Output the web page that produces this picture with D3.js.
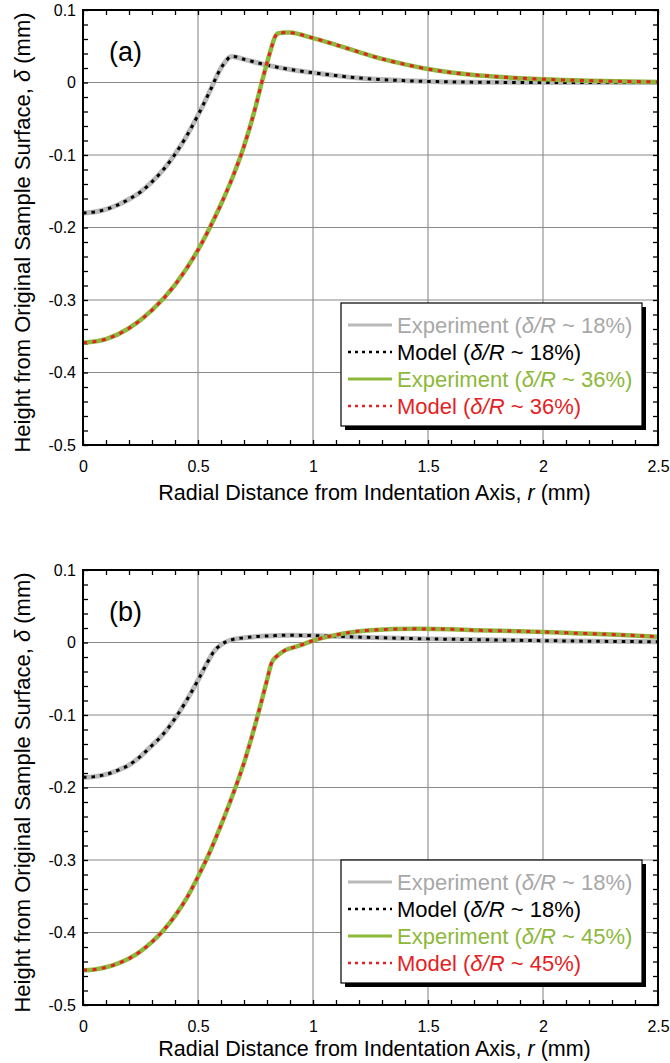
<!DOCTYPE html>
<html>
<head>
<meta charset="utf-8">
<script src="https://cdn.jsdelivr.net/npm/d3@7"></script>
<style>
  body { margin: 0; background: #fff; }
  svg { display: block; font-family: "Liberation Sans", Arial, Helvetica, sans-serif; }
</style>
</head>
<body>
<svg id="chart" width="670" height="1063"></svg>
<script>
// ---- data: surface profile after indentation, height (mm) vs radial distance (mm) ----
// Panel (a): delta/R ~ 18% and ~ 36%
const rA18 = [0, 0.05, 0.1, 0.15, 0.2, 0.25, 0.3, 0.35, 0.4, 0.45, 0.5, 0.55, 0.6, 0.625, 0.64, 0.65, 0.7, 0.8, 0.9, 1.0, 1.1, 1.2, 1.3, 1.4, 1.5, 1.7, 2.0, 2.5];
const hA18 = [-0.180, -0.1785, -0.175, -0.169, -0.161, -0.151, -0.137, -0.120, -0.099, -0.074, -0.045, -0.013, 0.020, 0.031, 0.0355, 0.036, 0.032, 0.024, 0.018, 0.0135, 0.0095, 0.0062, 0.004, 0.0025, 0.0015, 0.0005, 0.0, 0.0];

const rA36 = [0, 0.1, 0.2, 0.3, 0.4, 0.5, 0.55, 0.6, 0.65, 0.7, 0.75, 0.777, 0.8, 0.82, 0.835, 0.85, 0.88, 0.9, 1.0, 1.1, 1.2, 1.3, 1.4, 1.5, 1.6, 1.7, 1.8, 1.9, 2.0, 2.2, 2.5];
const hA36 = [-0.359, -0.354, -0.339, -0.314, -0.279, -0.231, -0.201, -0.168, -0.131, -0.088, -0.034, 0.0, 0.027, 0.049, 0.063, 0.068, 0.069, 0.0688, 0.0613, 0.052, 0.042, 0.0325, 0.025, 0.0185, 0.0138, 0.0105, 0.008, 0.006, 0.0045, 0.0025, 0.0008];

// Panel (b): delta/R ~ 18% and ~ 45%
const rB18 = [0, 0.05, 0.1, 0.15, 0.2, 0.25, 0.3, 0.35, 0.4, 0.45, 0.5, 0.54, 0.57, 0.6, 0.65, 0.7, 0.8, 0.9, 1.0, 1.1, 1.25, 1.5, 1.7, 2.0, 2.5];
const hB18 = [-0.186, -0.185, -0.182, -0.1765, -0.169, -0.157, -0.142, -0.126, -0.105, -0.080, -0.052, -0.028, -0.012, -0.003, 0.004, 0.0065, 0.009, 0.010, 0.0095, 0.0085, 0.007, 0.005, 0.004, 0.0025, 0.001];

const rB45 = [0, 0.05, 0.1, 0.15, 0.2, 0.25, 0.3, 0.35, 0.4, 0.45, 0.5, 0.55, 0.6, 0.65, 0.7, 0.75, 0.777, 0.8, 0.82, 0.85, 0.88, 0.93, 1.0, 1.1, 1.25, 1.45, 1.6, 1.7, 1.9, 2.1, 2.3, 2.5];
const hB45 = [-0.452, -0.451, -0.448, -0.443, -0.436, -0.426, -0.413, -0.397, -0.377, -0.353, -0.323, -0.290, -0.252, -0.211, -0.166, -0.112, -0.080, -0.052, -0.028, -0.017, -0.0105, -0.0055, 0.0025, 0.0105, 0.017, 0.0188, 0.0182, 0.017, 0.0155, 0.0133, 0.011, 0.008];

// ---- axes ----
const xTicks = [0, 0.5, 1, 1.5, 2, 2.5];
const xTickLabels = ["0", "0.5", "1", "1.5", "2", "2.5"];
const yTicks = [0.1, 0, -0.1, -0.2, -0.3, -0.4, -0.5];
const yTickLabels = ["0.1", "0", "-0.1", "-0.2", "-0.3", "-0.4", "-0.5"];
const xGrid = [0.5, 1, 1.5, 2];
const yGrid = [0, -0.1, -0.2, -0.3, -0.4];
const xMinor = d3.range(0, 26).map(i => i / 10);
const yMinor = d3.range(0, 31).map(i => +(-0.5 + i * 0.02).toFixed(2));

const xTitle = "Radial Distance from Indentation Axis, ";
const yTitle = "Height from Original Sample Surface, ";

const colors = { exp18: "#bababa", mod18: "#000000", expHi: "#8db83a", modHi: "#e41f26", text18: "#a8a8a8" };

const svg = d3.select("#chart");
const M = { left: 83, width: 575, height: 435 };

function ratioLabel(sel, prefix, pct) {
  sel.append("tspan").text(prefix + " (");
  sel.append("tspan").attr("font-style", "italic").text("\u03b4/R");
  sel.append("tspan").text(" ~ " + pct + "%)");
}

function drawPanel(cfg) {
  const W = M.width, H = M.height;
  const g = svg.append("g").attr("transform", `translate(${M.left},${cfg.top})`);
  const x = d3.scaleLinear().domain([0, 2.5]).range([0, W]);
  const y = d3.scaleLinear().domain([-0.5, 0.1]).range([H, 0]);

  const clipId = "clip-" + cfg.id;
  g.append("clipPath").attr("id", clipId)
    .append("rect").attr("width", W).attr("height", H);

  // grid lines
  g.append("g").selectAll("line").data(xGrid).join("line")
    .attr("x1", d => x(d)).attr("x2", d => x(d)).attr("y1", 0).attr("y2", H)
    .attr("stroke", "#8a8a8a").attr("stroke-width", 1.1);
  g.append("g").selectAll("line").data(yGrid).join("line")
    .attr("x1", 0).attr("x2", W).attr("y1", d => y(d)).attr("y2", d => y(d))
    .attr("stroke", "#8a8a8a").attr("stroke-width", 1.1);

  // inward minor ticks on all four sides
  const tickStyle = s => { s.select(".domain").remove(); s.selectAll("line").attr("stroke", "#000").attr("stroke-width", 1.3); };
  g.append("g").attr("transform", `translate(0,${H})`)
    .call(d3.axisBottom(x).tickValues(xMinor).tickSize(-5).tickFormat("")).call(tickStyle);
  g.append("g")
    .call(d3.axisTop(x).tickValues(xMinor).tickSize(-5).tickFormat("")).call(tickStyle);
  g.append("g")
    .call(d3.axisLeft(y).tickValues(yMinor).tickSize(-5).tickFormat("")).call(tickStyle);
  g.append("g").attr("transform", `translate(${W},0)`)
    .call(d3.axisRight(y).tickValues(yMinor).tickSize(-5).tickFormat("")).call(tickStyle);

  // curves
  const line = d3.line().x(d => x(d[0])).y(d => y(d[1])).curve(d3.curveMonotoneX);
  const curves = g.append("g").attr("clip-path", `url(#${clipId})`);
  const series = [
    { r: cfg.r18, h: cfg.h18, color: colors.exp18, width: 5, dash: null },
    { r: cfg.r18, h: cfg.h18, color: colors.mod18, width: 3, dash: "3.5,5" },
    { r: cfg.rHi, h: cfg.hHi, color: colors.expHi, width: 4.5, dash: null },
    { r: cfg.rHi, h: cfg.hHi, color: colors.modHi, width: 3, dash: "4,5.5" }
  ];
  series.forEach(s => {
    curves.append("path").datum(d3.zip(s.r, s.h))
      .attr("d", line).attr("fill", "none")
      .attr("stroke", s.color).attr("stroke-width", s.width)
      .attr("stroke-dasharray", s.dash);
  });

  // frame
  g.append("rect").attr("width", W).attr("height", H)
    .attr("fill", "none").attr("stroke", "#000").attr("stroke-width", 2);

  // tick labels
  const xl = g.append("g").attr("transform", `translate(0,${H})`)
    .call(d3.axisBottom(x).tickValues(xTicks).tickSize(0).tickPadding(16)
      .tickFormat((d, i) => xTickLabels[i]));
  xl.select(".domain").remove();
  xl.selectAll("text").attr("font-size", 16).attr("font-family", null).attr("fill", "#000");

  const yl = g.append("g")
    .call(d3.axisLeft(y).tickValues(yTicks).tickSize(0).tickPadding(7)
      .tickFormat((d, i) => yTickLabels[i]));
  yl.select(".domain").remove();
  yl.selectAll("text").attr("font-size", 16).attr("font-family", null).attr("fill", "#000");

  // panel letter
  g.append("text").attr("x", 26).attr("y", 51).attr("font-size", 27).text(cfg.letter);

  // axis titles
  const xt = g.append("text").attr("x", W / 2 + 4).attr("y", H + cfg.titleGap)
    .attr("text-anchor", "middle").attr("font-size", 21.5);
  xt.append("tspan").text(xTitle);
  xt.append("tspan").attr("font-style", "italic").text("r");
  xt.append("tspan").text(" (mm)");

  const yt = g.append("text")
    .attr("transform", `translate(${30 - M.left},${H / 2 + 5}) rotate(-90)`)
    .attr("text-anchor", "middle").attr("font-size", 22);
  yt.append("tspan").text(yTitle);
  yt.append("tspan").attr("font-style", "italic").text("\u03b4");
  yt.append("tspan").text(" (mm)");

  // legend with drop shadow
  const lg = g.append("g").attr("transform", `translate(${341 - M.left},${cfg.legendTop - cfg.top})`);
  const LW = 301, LH = 123;
  lg.append("rect").attr("x", 4).attr("y", 4).attr("width", LW).attr("height", LH).attr("fill", "#000");
  lg.append("rect").attr("width", LW).attr("height", LH).attr("fill", "#fff")
    .attr("stroke", "#000").attr("stroke-width", 1.2);
  const entries = [
    { label: "Experiment", pct: 18, stroke: colors.exp18, text: colors.text18, width: 3, dash: null },
    { label: "Model", pct: 18, stroke: colors.mod18, text: "#000", width: 2.5, dash: "3,4" },
    { label: "Experiment", pct: cfg.pctHi, stroke: colors.expHi, text: colors.expHi, width: 3, dash: null },
    { label: "Model", pct: cfg.pctHi, stroke: colors.modHi, text: colors.modHi, width: 2.5, dash: "3,4" }
  ];
  entries.forEach((e, i) => {
    const cy = 22 + i * 27;
    lg.append("line").attr("x1", 7).attr("x2", 51).attr("y1", cy).attr("y2", cy)
      .attr("stroke", e.stroke).attr("stroke-width", e.width).attr("stroke-dasharray", e.dash);
    const t = lg.append("text").attr("x", 56).attr("y", cy + 8)
      .attr("font-size", 22).attr("fill", e.text);
    ratioLabel(t, e.label, e.pct);
  });
}

drawPanel({ id: "a", top: 10, letter: "(a)", legendTop: 303, titleGap: 55, r18: rA18, h18: hA18, rHi: rA36, hHi: hA36, pctHi: 36 });
drawPanel({ id: "b", top: 570, letter: "(b)", legendTop: 860, titleGap: 51, r18: rB18, h18: hB18, rHi: rB45, hHi: hB45, pctHi: 45 });
</script>
</body>
</html>
